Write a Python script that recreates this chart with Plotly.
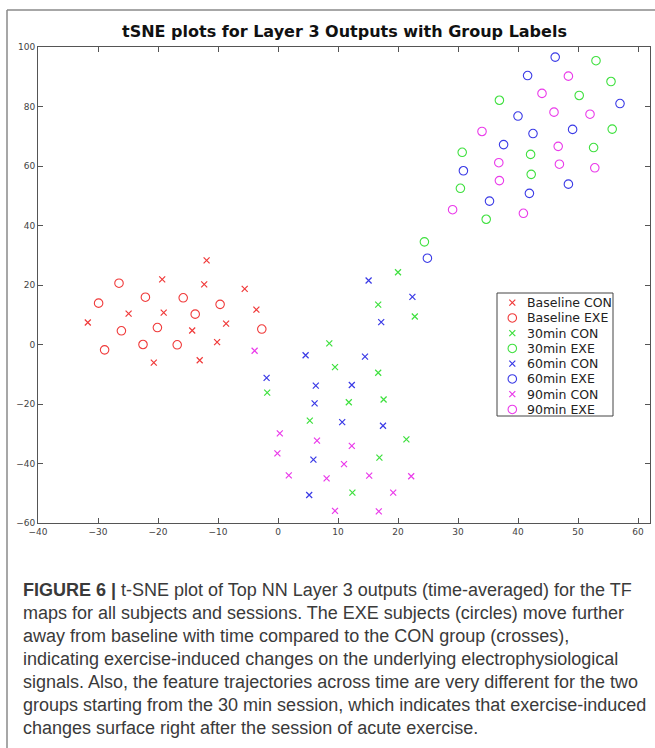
import plotly.graph_objects as go

# ---------------- data ----------------
series_names = ["Baseline CON", "Baseline EXE", "30min CON", "30min EXE",
                "60min CON", "60min EXE", "90min CON", "90min EXE"]

baseline_con_x = [-31.7, -24.9, -19.3, -19.05, -14.3, -13.05, -11.9, -12.3, -8.65, -10.15, -5.55, -3.6, -20.7]
baseline_con_y = [7.4, 10.4, 21.9, 10.7, 4.7, -5.3, 28.3, 20.2, 7.0, 0.8, 18.7, 11.7, -6.1]

baseline_exe_x = [-26.5, -29.9, -22.1, -15.8, -9.65, -13.8, -26.1, -20.1, -2.7, -28.9, -22.5, -16.8]
baseline_exe_y = [20.6, 13.9, 15.9, 15.7, 13.5, 10.2, 4.6, 5.7, 5.2, -1.8, 0.0, -0.1]

min30_con_x = [-1.8, 8.55, 9.5, 16.7, 11.8, 17.6, 5.3, 21.4, 16.9, 12.4, 20.0, 16.7, 22.8]
min30_con_y = [-16.2, 0.4, -7.6, -9.5, -19.4, -18.5, -25.6, -31.9, -38.0, -49.8, 24.3, 13.4, 9.4]

min30_exe_x = [24.4, 30.4, 34.7, 30.7, 36.9, 42.1, 42.2, 53.0, 55.5, 50.2, 55.7, 52.6]
min30_exe_y = [34.5, 52.5, 42.1, 64.6, 82.1, 63.9, 57.2, 95.4, 88.4, 83.7, 72.4, 66.2]

min60_con_x = [-1.9, 4.6, 14.5, 6.3, 12.3, 6.1, 10.7, 17.5, 5.9, 5.2, 15.1, 22.4, 17.2]
min60_con_y = [-11.2, -3.6, -4.1, -13.8, -13.6, -19.8, -26.1, -27.3, -38.7, -50.6, 21.5, 16.0, 7.5]

min60_exe_x = [24.9, 35.25, 30.9, 37.6, 40.0, 41.6, 46.2, 42.5, 49.1, 57.0, 41.9, 48.4]
min60_exe_y = [29.0, 48.2, 58.4, 67.2, 76.8, 90.4, 96.6, 70.9, 72.3, 81.0, 50.8, 53.9]

min90_con_x = [-3.9, 0.3, 6.5, 12.3, -0.1, 11.0, 1.8, 8.1, 15.2, 22.2, 19.2, 9.5, 16.8]
min90_con_y = [-2.1, -29.9, -32.3, -34.1, -36.6, -40.2, -44.0, -45.0, -44.1, -44.3, -49.8, -55.9, -56.1]

min90_exe_x = [29.1, 34.0, 36.8, 36.9, 44.0, 48.4, 46.0, 52.0, 46.7, 46.9, 52.8, 40.9]
min90_exe_y = [45.3, 71.6, 61.1, 55.1, 84.4, 90.2, 78.1, 77.4, 66.6, 60.6, 59.4, 44.1]

x_ticks = [-40, -30, -20, -10, 0, 10, 20, 30, 40, 50, 60]
y_ticks = [-60, -40, -20, 0, 20, 40, 60, 80, 100]

title_text = "tSNE plots for Layer 3 Outputs with Group Labels"
caption_lines = [
    "<b>FIGURE 6 |</b> t-SNE plot of Top NN Layer 3 outputs (time-averaged) for the TF",
    "maps for all subjects and sessions. The EXE subjects (circles) move further",
    "away from baseline with time compared to the CON group (crosses),",
    "indicating exercise-induced changes on the underlying electrophysiological",
    "signals. Also, the feature trajectories across time are very different for the two",
    "groups starting from the 30 min session, which indicates that exercise-induced",
    "changes surface right after the session of acute exercise.",
]

# ---------------- styling ----------------
W, H = 655, 748
L, R, T, B = 38, 5, 47, 225
PW, PH = W - L - R, H - T - B

def px2x(px):
    return (px - L) / PW

def py2y(py):
    return (H - B - py) / PH

RED, GREEN, BLUE, MAG = "#f03a3a", "#3ee03e", "#3a3ae6", "#ea3aea"
colors = [RED, RED, GREEN, GREEN, BLUE, BLUE, MAG, MAG]
is_cross = [True, False, True, False, True, False, True, False]

xs = [baseline_con_x, baseline_exe_x, min30_con_x, min30_exe_x,
      min60_con_x, min60_exe_x, min90_con_x, min90_exe_x]
ys = [baseline_con_y, baseline_exe_y, min30_con_y, min30_exe_y,
      min60_con_y, min60_exe_y, min90_con_y, min90_exe_y]

def marker_for(i):
    if is_cross[i]:
        return dict(symbol="x-thin-open", size=6, color=colors[i],
                    line=dict(color=colors[i], width=1.2))
    return dict(symbol="circle-open", size=8.5, color=colors[i],
                line=dict(color=colors[i], width=1.1))

fig = go.Figure()
for i, name in enumerate(series_names):
    fig.add_trace(go.Scatter(x=xs[i], y=ys[i], mode="markers", name=name,
                             marker=marker_for(i), showlegend=False,
                             hoverinfo="skip"))

# ---------------- custom legend (paper-space overlay axes) ----------------
leg_x0, leg_x1 = px2x(497), px2x(613)
leg_y_top, leg_y_bot = py2y(293), py2y(416)
row0_py, row_gap = 302.7, 15.25
mk_x = px2x(512.3)
tx_x = px2x(524.5)

fig.add_shape(type="rect", xref="paper", yref="paper",
              x0=leg_x0, x1=leg_x1, y0=leg_y_bot, y1=leg_y_top,
              line=dict(color="#444444", width=1), fillcolor="white", layer="below")
for i, name in enumerate(series_names):
    yy = py2y(row0_py + i * row_gap)
    fig.add_trace(go.Scatter(x=[mk_x], y=[yy], xaxis="x2", yaxis="y2",
                             mode="markers", marker=marker_for(i),
                             showlegend=False, hoverinfo="skip"))
    fig.add_annotation(x=tx_x, y=yy, xref="paper", yref="paper",
                       text=name, showarrow=False, xanchor="left", yanchor="middle",
                       font=dict(family="DejaVu Sans", size=12.5, color="#222222"))

# ---------------- title ----------------
fig.add_annotation(x=0.5, y=py2y(32), xref="paper", yref="paper",
                   text="<b>" + title_text + "</b>", showarrow=False,
                   xanchor="center", yanchor="middle",
                   font=dict(family="DejaVu Sans", size=16, color="#111111"))

# ---------------- caption ----------------
for k, line in enumerate(caption_lines):
    fig.add_annotation(x=px2x(21), y=py2y(590 + k * 23), xref="paper", yref="paper",
                       text=line, showarrow=False, xanchor="left", yanchor="middle",
                       font=dict(family="Liberation Sans, Arial", size=18, color="#3a3a3a"))

# ---------------- outer frame lines ----------------
fig.add_shape(type="line", xref="paper", yref="paper",
              x0=px2x(7), x1=px2x(7), y0=py2y(10), y1=py2y(760),
              line=dict(color="#8a8a8a", width=1.5))
fig.add_shape(type="line", xref="paper", yref="paper",
              x0=px2x(7), x1=px2x(660), y0=py2y(10), y1=py2y(10),
              line=dict(color="#8a8a8a", width=1.5))

axis_common = dict(showline=True, linecolor="#555555", linewidth=1,
                   mirror="ticks", ticks="inside", ticklen=5, tickcolor="#555555",
                   showgrid=False, zeroline=False,
                   tickfont=dict(family="DejaVu Sans", size=9, color="#444444"))

fig.update_layout(
    width=W, height=H,
    margin=dict(l=L, r=R, t=T, b=B),
    paper_bgcolor="white", plot_bgcolor="white",
    xaxis=dict(range=[-40, 62], tickvals=x_ticks, **axis_common),
    yaxis=dict(range=[-60, 100], tickvals=y_ticks, **axis_common),
    xaxis2=dict(overlaying="x", range=[0, 1], visible=False),
    yaxis2=dict(overlaying="y", range=[0, 1], visible=False),
    showlegend=False,
)

fig.write_html("out.html",
               config={"displayModeBar": False, "staticPlot": True},
               post_script="document.body.style.margin='0';"
                           "document.body.style.overflow='hidden';")
